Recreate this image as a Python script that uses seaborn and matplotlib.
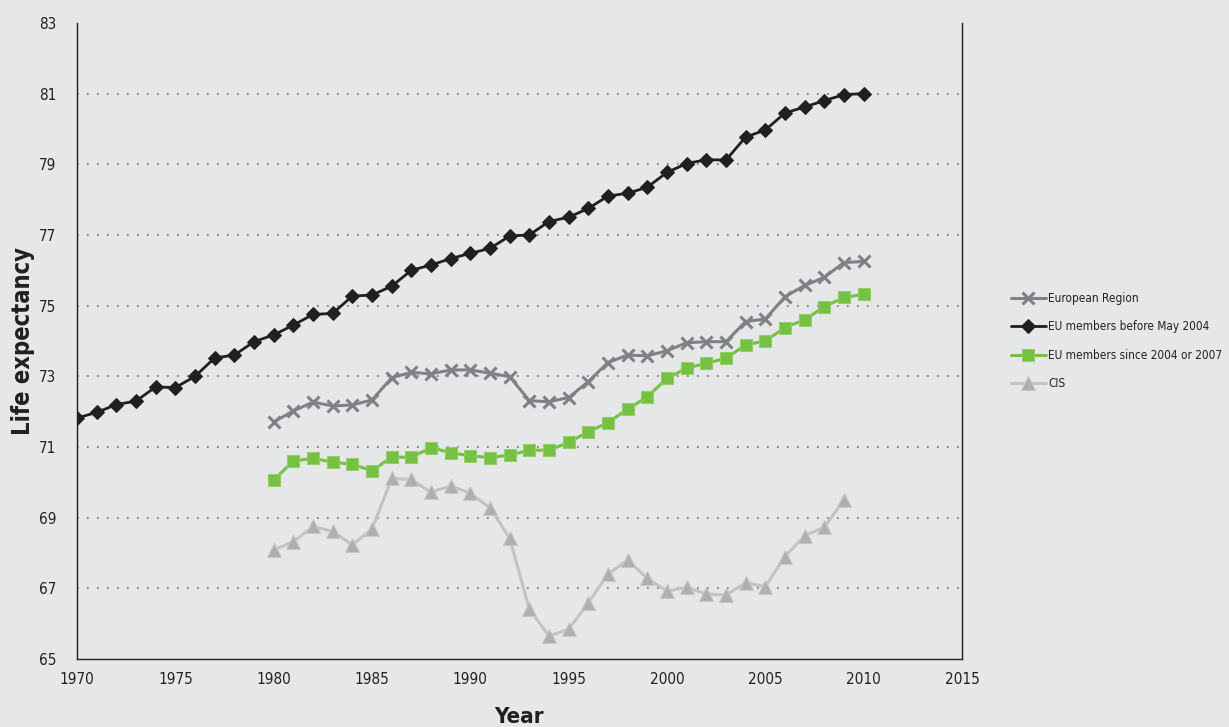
import matplotlib
matplotlib.use("Agg")
import pandas as pd
import matplotlib.pyplot as plt
import seaborn as sns

# Data
years_eu15 = list(range(1970, 2011))
eu_before_2004 = [71.82, 71.98, 72.20, 72.30, 72.70, 72.68, 73.00, 73.52, 73.60, 73.98,
                  74.17, 74.45, 74.75, 74.78, 75.27, 75.30, 75.55, 76.00, 76.15, 76.33,
                  76.48, 76.62, 76.97, 77.00, 77.38, 77.50, 77.75, 78.10, 78.18, 78.35,
                  78.77, 79.02, 79.13, 79.12, 79.77, 79.97, 80.45, 80.62, 80.80, 80.97,
                  81.00]

years_region = list(range(1980, 2011))
european_region = [71.71, 72.02, 72.27, 72.16, 72.19, 72.33, 72.96, 73.11, 73.07, 73.18,
                   73.18, 73.09, 72.99, 72.31, 72.28, 72.40, 72.85, 73.39, 73.60, 73.58,
                   73.72, 73.95, 73.98, 73.98, 74.55, 74.62, 75.25, 75.57, 75.80, 76.22,
                   76.25]

eu_since_2004 = [70.07, 70.60, 70.68, 70.57, 70.51, 70.33, 70.71, 70.71, 70.98, 70.84,
                 70.75, 70.70, 70.77, 70.91, 70.91, 71.13, 71.43, 71.69, 72.07, 72.42,
                 72.94, 73.23, 73.37, 73.51, 73.89, 74.00, 74.38, 74.60, 74.97, 75.23,
                 75.32]

years_cis = list(range(1980, 2010))
cis = [68.09, 68.32, 68.75, 68.61, 68.23, 68.68, 70.11, 70.08, 69.72, 69.90,
       69.69, 69.28, 68.42, 66.41, 65.65, 65.84, 66.59, 67.40, 67.80, 67.28,
       66.92, 67.03, 66.84, 66.81, 67.16, 67.05, 67.90, 68.49, 68.73, 69.50]

y_ticks = [65, 67, 69, 71, 73, 75, 77, 79, 81, 83]
x_ticks = [1970, 1975, 1980, 1985, 1990, 1995, 2000, 2005, 2010, 2015]

bg = "#e6e7e8"
sns.set_style("white")
plt.rcParams['font.family'] = ['DejaVu Sans']
plt.rcParams['font.stretch'] = 'condensed'

fig = plt.figure(figsize=(12.29, 7.27), dpi=100, facecolor=bg)
ax = fig.add_axes([0.0627, 0.0935, 0.72, 0.875])
ax.set_facecolor(bg)

sns.lineplot(x=years_region, y=european_region, ax=ax, color="#808184", linewidth=2.2,
             marker="x", markersize=9, markeredgewidth=2.2, markeredgecolor="#808184",
             label="European Region")
sns.lineplot(x=years_eu15, y=eu_before_2004, ax=ax, color="#231f20", linewidth=2,
             marker="D", markersize=7, markeredgecolor="#231f20",
             label="EU members before May 2004")
sns.lineplot(x=years_region, y=eu_since_2004, ax=ax, color="#76c043", linewidth=2.2,
             marker="s", markersize=9, markeredgecolor="#8fd060",
             label="EU members since 2004 or 2007")
sns.lineplot(x=years_cis, y=cis, ax=ax, color="#c2c3c5", linewidth=2.2,
             marker="^", markersize=10, markerfacecolor="#aeafb1", markeredgecolor="#c6c7c9",
             label="CIS")

ax.set_xlim(1970, 2015)
ax.set_ylim(65, 83)
ax.set_xticks(x_ticks)
ax.set_yticks(y_ticks)
ax.set_xticklabels([str(t) for t in x_ticks], fontsize=11, color="#231f20")
ax.set_yticklabels([str(t) for t in y_ticks], fontsize=11, color="#231f20")

# dotted horizontal guides
for y in y_ticks[1:-1]:
    ax.axhline(y, color="#6d6e71", linestyle=(0, (1, 5)), linewidth=1.2, zorder=0)

ax.spines['top'].set_visible(False)
for s in ['left', 'bottom', 'right']:
    ax.spines[s].set_color("#231f20")
    ax.spines[s].set_linewidth(1)
ax.tick_params(axis='both', direction='out', length=6, width=1, color="#231f20")
ax.tick_params(axis='x', pad=3)
ax.tick_params(axis='y', pad=9)

ax.set_xlabel("Year", fontsize=16, fontweight="bold", color="#231f20", labelpad=15)
ax.set_ylabel("Life expectancy", fontsize=17, fontweight="bold", color="#231f20", labelpad=3)

leg = ax.legend(loc="center left", bbox_to_anchor=(1.043, 0.50), frameon=False,
                fontsize=8.5, handlelength=3.0, labelspacing=1.3, handletextpad=0.2)
for t in leg.get_texts():
    t.set_color("#231f20")

fig.savefig("out.png", dpi=100, facecolor=bg)
